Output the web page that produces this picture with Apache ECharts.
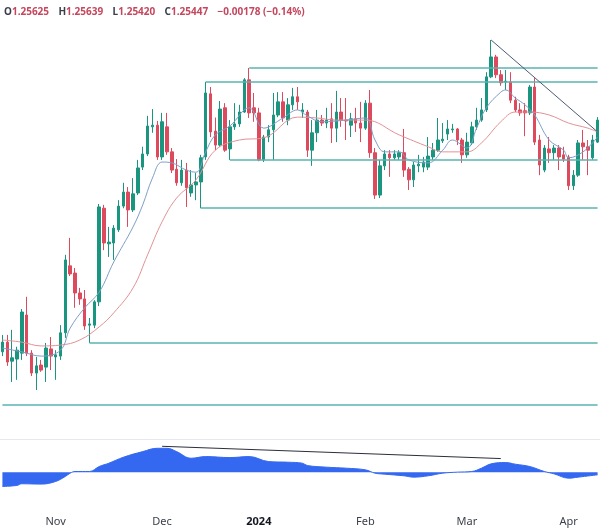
<!DOCTYPE html>
<html>
<head>
<meta charset="utf-8">
<script src="https://cdn.jsdelivr.net/npm/echarts@6/dist/echarts.min.js"></script>
<style>
  html, body { margin: 0; padding: 0; background: #fff; }
  #chart { width: 600px; height: 530px; }
</style>
</head>
<body>
<div id="chart"></div>
<script>
// daily bars shown on the chart (no bars on Dec 25 and Jan 1)
const tradingDays = {
  '2023-10': [17, 18, 19, 20, 23, 24, 25, 26, 27, 30, 31],
  '2023-11': [1, 2, 3, 6, 7, 8, 9, 10, 13, 14, 15, 16, 17, 20, 21, 22, 23, 24, 27, 28, 29, 30],
  '2023-12': [1, 4, 5, 6, 7, 8, 11, 12, 13, 14, 15, 18, 19, 20, 21, 22, 26, 27, 28, 29],
  '2024-01': [2, 3, 4, 5, 8, 9, 10, 11, 12, 15, 16, 17, 18, 19, 22, 23, 24, 25, 26, 29, 30, 31],
  '2024-02': [1, 2, 5, 6, 7, 8, 9, 12, 13, 14, 15, 16, 19, 20, 21, 22, 23, 26, 27, 28, 29],
  '2024-03': [1, 4, 5, 6, 7, 8, 11, 12, 13, 14, 15, 18, 19, 20, 21, 22, 25, 26, 27, 28, 29],
  '2024-04': [1, 2, 3, 4, 5, 8, 9],
}
const dates = Object.entries(tradingDays)
  .flatMap(([m, ds]) => ds.map(d => m + '-' + String(d).padStart(2, '0')))

const monthLabels = {
  '2023-11-01': 'Nov', '2023-12-01': 'Dec', '2024-01-02': '2024',
  '2024-02-01': 'Feb', '2024-03-01': 'Mar', '2024-04-01': 'Apr',
}

// [open, close, low, high]
const candles = [
  [1.2157, 1.2180, 1.2147, 1.2197], [1.2180, 1.2133, 1.2124, 1.2197], [1.2135, 1.2143, 1.2086, 1.2209],
  [1.2140, 1.2161, 1.2091, 1.2169], [1.2154, 1.2251, 1.2138, 1.2258], [1.2244, 1.2154, 1.2147, 1.2287],
  [1.2154, 1.2107, 1.2100, 1.2161], [1.2107, 1.2124, 1.2067, 1.2145], [1.2126, 1.2114, 1.2110, 1.2138],
  [1.2121, 1.2166, 1.2086, 1.2178], [1.2164, 1.2147, 1.2114, 1.2192], [1.2145, 1.2150, 1.2091, 1.2161],
  [1.2147, 1.2202, 1.2138, 1.2220], [1.2202, 1.2374, 1.2190, 1.2386], [1.2360, 1.2341, 1.2336, 1.2426],
  [1.2343, 1.2296, 1.2261, 1.2355], [1.2296, 1.2282, 1.2268, 1.2308], [1.2282, 1.2218, 1.2209, 1.2303],
  [1.2220, 1.2223, 1.2178, 1.2237], [1.2220, 1.2275, 1.2213, 1.2279], [1.2275, 1.2499, 1.2265, 1.2506],
  [1.2496, 1.2414, 1.2397, 1.2504], [1.2412, 1.2416, 1.2381, 1.2452], [1.2414, 1.2449, 1.2374, 1.2456],
  [1.2445, 1.2501, 1.2440, 1.2515], [1.2501, 1.2534, 1.2496, 1.2556], [1.2534, 1.2492, 1.2452, 1.2546],
  [1.2492, 1.2530, 1.2487, 1.2567], [1.2532, 1.2591, 1.2527, 1.2610], [1.2593, 1.2624, 1.2586, 1.2641],
  [1.2624, 1.2690, 1.2619, 1.2714], [1.2688, 1.2692, 1.2674, 1.2730], [1.2692, 1.2617, 1.2610, 1.2702],
  [1.2617, 1.2700, 1.2610, 1.2721], [1.2688, 1.2629, 1.2622, 1.2721], [1.2629, 1.2586, 1.2579, 1.2638],
  [1.2588, 1.2556, 1.2549, 1.2612], [1.2556, 1.2586, 1.2549, 1.2610], [1.2586, 1.2544, 1.2499, 1.2603],
  [1.2532, 1.2551, 1.2523, 1.2586], [1.2551, 1.2558, 1.2515, 1.2579], [1.2558, 1.2615, 1.2496, 1.2622],
  [1.2617, 1.2768, 1.2610, 1.2794], [1.2766, 1.2676, 1.2664, 1.2782], [1.2678, 1.2645, 1.2633, 1.2710],
  [1.2645, 1.2730, 1.2641, 1.2749], [1.2733, 1.2633, 1.2629, 1.2744], [1.2636, 1.2688, 1.2610, 1.2704],
  [1.2688, 1.2695, 1.2681, 1.2744], [1.2695, 1.2723, 1.2688, 1.2740], [1.2723, 1.2799, 1.2721, 1.2803],
  [1.2799, 1.2721, 1.2709, 1.2827], [1.2733, 1.2721, 1.2700, 1.2768], [1.2721, 1.2610, 1.2607, 1.2733],
  [1.2610, 1.2664, 1.2605, 1.2669], [1.2664, 1.2681, 1.2652, 1.2692], [1.2681, 1.2716, 1.2610, 1.2768],
  [1.2716, 1.2747, 1.2711, 1.2770], [1.2747, 1.2709, 1.2700, 1.2770], [1.2704, 1.2740, 1.2692, 1.2756],
  [1.2740, 1.2759, 1.2728, 1.2780], [1.2759, 1.2747, 1.2728, 1.2782], [1.2723, 1.2728, 1.2709, 1.2744],
  [1.2723, 1.2633, 1.2617, 1.2728], [1.2633, 1.2674, 1.2596, 1.2704], [1.2674, 1.2704, 1.2652, 1.2728],
  [1.2704, 1.2697, 1.2690, 1.2716], [1.2697, 1.2704, 1.2685, 1.2733], [1.2707, 1.2685, 1.2650, 1.2744],
  [1.2685, 1.2723, 1.2652, 1.2773], [1.2723, 1.2704, 1.2688, 1.2756], [1.2704, 1.2702, 1.2657, 1.2756],
  [1.2692, 1.2707, 1.2664, 1.2721], [1.2707, 1.2697, 1.2676, 1.2733], [1.2697, 1.2685, 1.2652, 1.2747],
  [1.2685, 1.2744, 1.2681, 1.2751], [1.2744, 1.2627, 1.2615, 1.2775], [1.2627, 1.2527, 1.2518, 1.2638],
  [1.2527, 1.2596, 1.2520, 1.2610], [1.2596, 1.2624, 1.2586, 1.2633], [1.2624, 1.2615, 1.2570, 1.2633],
  [1.2615, 1.2624, 1.2610, 1.2633], [1.2617, 1.2627, 1.2610, 1.2633], [1.2627, 1.2586, 1.2570, 1.2683],
  [1.2588, 1.2563, 1.2539, 1.2593], [1.2563, 1.2598, 1.2546, 1.2605], [1.2596, 1.2600, 1.2581, 1.2622],
  [1.2593, 1.2605, 1.2581, 1.2617], [1.2593, 1.2619, 1.2586, 1.2664], [1.2617, 1.2633, 1.2610, 1.2650],
  [1.2633, 1.2657, 1.2629, 1.2709], [1.2655, 1.2659, 1.2650, 1.2697], [1.2671, 1.2683, 1.2657, 1.2704],
  [1.2681, 1.2683, 1.2674, 1.2695], [1.2683, 1.2657, 1.2645, 1.2685], [1.2657, 1.2622, 1.2603, 1.2662],
  [1.2622, 1.2652, 1.2615, 1.2674], [1.2650, 1.2688, 1.2645, 1.2700], [1.2688, 1.2704, 1.2681, 1.2733],
  [1.2704, 1.2728, 1.2700, 1.2756], [1.2728, 1.2806, 1.2723, 1.2817], [1.2806, 1.2853, 1.2803, 1.2893],
  [1.2853, 1.2811, 1.2803, 1.2858], [1.2811, 1.2792, 1.2785, 1.2822], [1.2794, 1.2796, 1.2775, 1.2822],
  [1.2794, 1.2751, 1.2744, 1.2817], [1.2751, 1.2728, 1.2723, 1.2759], [1.2728, 1.2721, 1.2714, 1.2744],
  [1.2726, 1.2721, 1.2666, 1.2744], [1.2721, 1.2782, 1.2716, 1.2787], [1.2782, 1.2652, 1.2645, 1.2803],
  [1.2657, 1.2598, 1.2574, 1.2669], [1.2586, 1.2638, 1.2581, 1.2645], [1.2636, 1.2627, 1.2603, 1.2664],
  [1.2627, 1.2638, 1.2610, 1.2645], [1.2638, 1.2617, 1.2586, 1.2645], [1.2622, 1.2612, 1.2605, 1.2641],
  [1.2617, 1.2549, 1.2539, 1.2622], [1.2549, 1.2574, 1.2539, 1.2586], [1.2574, 1.2650, 1.2570, 1.2657],
  [1.2650, 1.2641, 1.2610, 1.2681], [1.2641, 1.2633, 1.2574, 1.2657], [1.2615, 1.2657, 1.2610, 1.2669],
  [1.2652, 1.2704, 1.2650, 1.2711],
]

// moving averages: [bar index, price]
const maFast = [
  [0, 1.2166], [4, 1.2157], [8, 1.2147], [12, 1.2161], [14, 1.2213], [17, 1.2261], [20, 1.2298],
  [23, 1.2369], [27, 1.2452], [29, 1.2504], [31, 1.2567], [33, 1.2605], [35, 1.2603], [38, 1.2586],
  [40, 1.2581], [42, 1.2629], [44, 1.2669], [47, 1.2690], [51, 1.2733], [54, 1.2685], [58, 1.2709],
  [61, 1.2728], [63, 1.2714], [66, 1.2700], [71, 1.2704], [75, 1.2709], [77, 1.2657], [79, 1.2629],
  [82, 1.2629], [84, 1.2610], [88, 1.2603], [91, 1.2633], [93, 1.2657], [96, 1.2638], [98, 1.2685],
  [100, 1.2733], [103, 1.2770], [104, 1.2775], [106, 1.2756], [108, 1.2740], [110, 1.2716],
  [113, 1.2657], [116, 1.2633], [117, 1.2615], [120, 1.2629], [123, 1.2664],
]
const maSlow = [
  [0, 1.2185], [4, 1.2180], [8, 1.2171], [12, 1.2173], [16, 1.2185], [20, 1.2216], [23, 1.2249],
  [27, 1.2308], [30, 1.2386], [33, 1.2464], [36, 1.2520], [40, 1.2563], [44, 1.2633], [49, 1.2657],
  [54, 1.2662], [61, 1.2711], [65, 1.2709], [69, 1.2704], [75, 1.2704], [82, 1.2669], [88, 1.2641],
  [91, 1.2629], [96, 1.2629], [99, 1.2650], [103, 1.2700], [106, 1.2723], [109, 1.2723],
  [113, 1.2716], [117, 1.2697], [121, 1.2685], [123, 1.2676],
]

// lower pane oscillator: [bar index, value]
const oscillator = [
  [0, -0.43], [3, -0.40], [4, -0.35], [8, -0.36], [11, -0.28], [13, -0.13], [14, -0.03], [15, 0.02],
  [18, 0.02], [20, 0.17], [22, 0.27], [25, 0.45], [29, 0.62], [32, 0.72], [34, 0.72], [36, 0.62],
  [39, 0.42], [42, 0.47], [47, 0.44], [51, 0.47], [55, 0.32], [59, 0.30], [62, 0.27], [63, 0.20],
  [67, 0.15], [71, 0.12], [75, 0.07], [77, -0.03], [79, -0.06], [83, -0.11], [85, -0.15], [88, -0.11],
  [91, -0.03], [94, 0.00], [97, 0.02], [99, 0.12], [101, 0.25], [104, 0.29], [106, 0.24], [109, 0.17],
  [112, 0.02], [114, -0.05], [117, -0.18], [119, -0.15], [123, -0.08],
]

// horizontal levels: [price, bar they start from]
const levels = [
  [1.2827, 51], [1.2794, 42], [1.2610, 47], [1.2496, 41], [1.2178, 18], [1.2032, 0],
]
const priceTrend = [[101, 1.2893], [123, 1.2676]]
const oscTrend = [[33, 0.78], [103, 0.41]]

const header = ['1.25625', '1.25639', '1.25420', '1.25447', '\u22120.00178', '\u22120.14%']

const last = dates.length - 1
const pts = arr => arr.map(([i, v]) => [dates[i], v])
const seg = (a, b, style) => [
  { coord: [dates[a[0]], a[1]], ...(style ? { lineStyle: style } : {}) },
  { coord: [dates[b[0]], b[1]] },
]

const chart = echarts.init(document.getElementById('chart'))
chart.setOption({
  animation: false,
  backgroundColor: '#ffffff',
  textStyle: { fontFamily: 'Noto Sans' },
  title: {
    left: 4,
    top: 3,
    padding: 0,
    text: `{k|O}{v|${header[0]}}  {k|H}{v|${header[1]}}  {k|L}{v|${header[2]}}  {k|C}{v|${header[3]}}  {v|${header[4]} (${header[5]})}`,
    textStyle: {
      rich: {
        k: { color: '#3b3f4a', fontSize: 10, fontFamily: 'Noto Sans' },
        v: { color: '#c4475e', fontSize: 10, fontFamily: 'Noto Sans' },
      },
    },
  },
  grid: [
    { left: -4.2, right: -1.6, top: 0, height: 430 },
    { left: -4.2, right: -1.6, top: 439, height: 63 },
  ],
  xAxis: [
    { type: 'category', gridIndex: 0, data: dates, show: false },
    {
      type: 'category', gridIndex: 1, data: dates,
      axisLine: { show: false },
      axisTick: { show: false },
      axisLabel: {
        margin: 14,
        color: '#3b3f4a',
        fontSize: 11,
        interval: (idx, val) => val in monthLabels,
        formatter: val => (monthLabels[val] === '2024' ? '{b|2024}' : monthLabels[val] || ''),
        rich: { b: { fontWeight: 'bold', fontSize: 11, color: '#131722' } },
      },
    },
    {
      type: 'category', gridIndex: 1, data: dates, position: 'top',
      axisLine: { show: true, lineStyle: { color: '#e6e8ee', width: 1 } },
      axisTick: { show: false },
      axisLabel: { show: false },
    },
  ],
  yAxis: [
    { type: 'value', gridIndex: 0, min: 1.19726, max: 1.29874, show: false },
    { type: 'value', gridIndex: 1, min: -0.9, max: 1.0, show: false },
  ],
  series: [
    {
      type: 'candlestick',
      xAxisIndex: 0,
      yAxisIndex: 0,
      data: candles,
      barWidth: 3,
      itemStyle: {
        color: '#1a9580',
        color0: '#dd4a5e',
        borderColor: '#1a9580',
        borderColor0: '#dd4a5e',
        borderWidth: 1,
      },
      markLine: {
        silent: true,
        symbol: ['none', 'none'],
        label: { show: false },
        lineStyle: { color: '#5ab5b1', width: 1.5, type: 'solid' },
        data: [
          ...levels.map(([p, from]) => seg([from, p], [last, p])),
          seg(priceTrend[0], priceTrend[1], { color: '#4d5a76', width: 1, type: 'solid' }),
        ],
      },
    },
    {
      type: 'line', xAxisIndex: 0, yAxisIndex: 0, data: pts(maSlow),
      smooth: 0.4, showSymbol: false, lineStyle: { color: '#e29296', width: 1 },
    },
    {
      type: 'line', xAxisIndex: 0, yAxisIndex: 0, data: pts(maFast),
      smooth: 0.4, showSymbol: false, lineStyle: { color: '#7e9fc6', width: 1 },
    },
    {
      type: 'line', xAxisIndex: 1, yAxisIndex: 1, data: pts(oscillator),
      smooth: 0.4, showSymbol: false,
      lineStyle: { color: '#3468f0', width: 1 },
      areaStyle: { color: '#3468f0', opacity: 1 },
      markLine: {
        silent: true,
        symbol: ['none', 'none'],
        label: { show: false },
        lineStyle: { color: '#2b2f38', width: 1, type: 'solid' },
        data: [seg(oscTrend[0], oscTrend[1])],
      },
    },
  ],
})
</script>
</body>
</html>
